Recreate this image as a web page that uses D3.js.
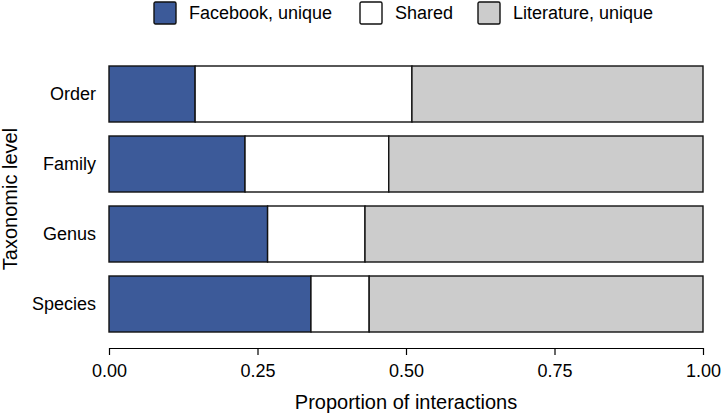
<!DOCTYPE html>
<html>
<head>
<meta charset="utf-8">
<script src="https://cdn.jsdelivr.net/npm/d3@7"></script>
<style>
	body { margin: 0; background: #fff; }
	svg { display: block; font-family: 'Liberation Sans', Arial, Helvetica, sans-serif; }
</style>
</head>
<body>
<svg id="chart" width="722" height="416"></svg>
<script>
// Taxonomic levels, top to bottom
const categories = ['Order', 'Family', 'Genus', 'Species']

// Proportions of interactions per level
const facebookUnique = [0.145, 0.229, 0.267, 0.340]
const shared = [0.365, 0.242, 0.164, 0.098]
const literatureUnique = [0.490, 0.529, 0.569, 0.562]

const seriesNames = ['Facebook, unique', 'Shared', 'Literature, unique']
const seriesColors = ['#3c5a99', '#ffffff', '#cccccc']
const xTicks = [0, 0.25, 0.5, 0.75, 1]

const svg = d3.select('#chart')

const x = d3.scaleLinear().domain([0, 1]).range([109, 703])
const y = d3.scaleBand()
	.domain(categories)
	.range([59, 339])
	.paddingInner(0.2)
	.paddingOuter(0.1)

// stack the three parts of each bar
const rows = categories.map((c, i) => ({
	level: c,
	'Facebook, unique': facebookUnique[i],
	'Shared': shared[i],
	'Literature, unique': literatureUnique[i]
}))
const stacked = d3.stack().keys(seriesNames)(rows)

svg.append('g')
	.selectAll('g')
	.data(stacked)
	.join('g')
	.attr('fill', (d, i) => seriesColors[i])
	.selectAll('rect')
	.data(d => d)
	.join('rect')
	.attr('x', d => x(d[0]))
	.attr('y', d => y(d.data.level))
	.attr('width', d => x(d[1]) - x(d[0]))
	.attr('height', y.bandwidth())
	.attr('stroke', '#111')
	.attr('stroke-width', 1.4)

// x axis
const xAxis = svg.append('g')
	.attr('transform', 'translate(0,348)')
	.call(d3.axisBottom(x)
		.tickValues(xTicks)
		.tickFormat(d3.format('.2f'))
		.tickSize(7)
		.tickSizeOuter(0))
xAxis.select('.domain').attr('stroke', '#000').attr('stroke-width', 1.2)
xAxis.selectAll('.tick line').attr('stroke', '#000').attr('stroke-width', 1.2)
xAxis.selectAll('.tick text')
	.attr('y', 29)
	.attr('dy', null)
	.attr('fill', '#000')
	.style('font-size', '18px')
	.style('font-family', 'Liberation Sans, Arial, sans-serif')

// category labels
svg.append('g')
	.selectAll('text')
	.data(categories)
	.join('text')
	.attr('x', 96)
	.attr('y', d => y(d) + y.bandwidth() / 2)
	.attr('dy', '0.35em')
	.attr('text-anchor', 'end')
	.style('font-size', '18px')
	.text(d => d)

// axis titles
svg.append('text')
	.attr('x', x(0.5))
	.attr('y', 409)
	.attr('text-anchor', 'middle')
	.style('font-size', '20px')
	.text('Proportion of interactions')

svg.append('text')
	.attr('transform', `translate(17,${(y.range()[0] + y.range()[1]) / 2}) rotate(-90)`)
	.attr('text-anchor', 'middle')
	.style('font-size', '20px')
	.text('Taxonomic level')

// legend
const legendX = [154, 360, 478]
const legend = svg.append('g')
	.selectAll('g')
	.data(seriesNames)
	.join('g')
	.attr('transform', (d, i) => `translate(${legendX[i]},2)`)
legend.append('rect')
	.attr('width', 22)
	.attr('height', 22)
	.attr('rx', 1.5)
	.attr('fill', (d, i) => seriesColors[i])
	.attr('stroke', '#111')
	.attr('stroke-width', 1.4)
legend.append('text')
	.attr('x', 35)
	.attr('y', 17)
	.style('font-size', '18px')
	.text(d => d)
</script>
</body>
</html>
